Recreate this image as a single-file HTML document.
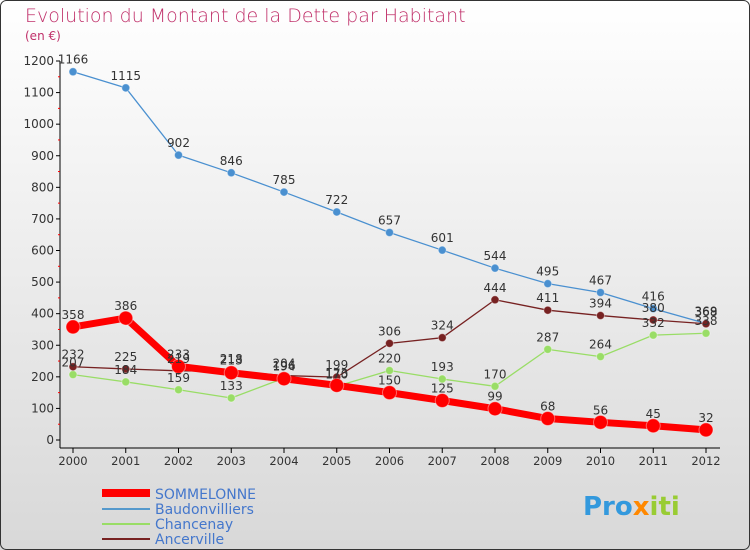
<!DOCTYPE html>
<html><head><meta charset="utf-8"><style>
body{margin:0;}
#wrap{width:750px;height:550px;position:relative;overflow:hidden;background:linear-gradient(#ffffff,#d8d8d8);font-family:"DejaVu Sans","Liberation Sans",sans-serif;}
</style></head><body>
<div id="wrap">
<svg id="svg" width="750" height="550" style="position:absolute;left:0;top:0">
<rect x="0.5" y="0.5" width="749" height="549" rx="6" fill="none" stroke="#333"/>
<text x="25" y="22" font-size="19" fill="#c0306a" font-weight="200">Evolution du Montant de la Dette par Habitant</text>
<text x="25" y="40" font-size="12" fill="#c0306a">(en €)</text>
<g id="axes"></g><g id="series"></g><g id="labels"></g>
<g>
<line x1="102" y1="493" x2="150" y2="493" stroke="#ff0000" stroke-width="8"/>
<text x="155" y="499" font-size="14" fill="#4477cc">SOMMELONNE</text>
<line x1="102" y1="509" x2="150" y2="509" stroke="#5599cc" stroke-width="2"/>
<text x="155" y="514" font-size="14" fill="#4477cc">Baudonvilliers</text>
<line x1="102" y1="524" x2="150" y2="524" stroke="#99dd66" stroke-width="2"/>
<text x="155" y="529" font-size="14" fill="#4477cc">Chancenay</text>
<line x1="102" y1="539" x2="150" y2="539" stroke="#772222" stroke-width="2"/>
<text x="155" y="544" font-size="14" fill="#4477cc">Ancerville</text>
</g>
<text x="583" y="515" font-size="26" font-weight="bold" fill="#3399dd">Pro<tspan fill="#ff8800">x</tspan><tspan fill="#99cc33">iti</tspan></text>
</svg>
</div>
<script>
const years=[2000,2001,2002,2003,2004,2005,2006,2007,2008,2009,2010,2011,2012];
const yTicks=[0,100,200,300,400,500,600,700,800,900,1000,1100,1200];
const sommelonne=[358,386,233,213,194,173,150,125,99,68,56,45,32];
const baudonvilliers=[1166,1115,902,846,785,722,657,601,544,495,467,416,369];
const chancenay=[207,184,159,133,196,170,220,193,170,287,264,332,338];
const ancerville=[232,225,219,218,204,199,306,324,444,411,394,380,368];
const NS="http://www.w3.org/2000/svg";
const X=i=>73+i*52.75, Y=v=>440-v*379/1200;
function mk(tag,attrs,parent){const e=document.createElementNS(NS,tag);for(const k in attrs)e.setAttribute(k,attrs[k]);parent.appendChild(e);return e;}
const ax=document.getElementById('axes'),sg=document.getElementById('series'),lg=document.getElementById('labels');
let a=mk('line',{x1:60,y1:Y(1200),x2:60,y2:448,stroke:'#000'},ax);


a=mk('line',{x1:60,y1:448,x2:720,y2:448,stroke:'#000'},ax);


yTicks.forEach((t,i)=>{
 mk('line',{x1:56,y1:Y(t),x2:60,y2:Y(t),stroke:'#000'},ax);
 const tx=mk('text',{x:54,y:Y(t)+4,'font-size':12,fill:'#333','text-anchor':'end'},ax);tx.textContent=t;
 
 
 if(i<yTicks.length-1)mk('line',{x1:58,y1:Y(t+50),x2:60,y2:Y(t+50),stroke:'#f00'},ax);
});
years.forEach((y,i)=>{
 mk('line',{x1:X(i),y1:448,x2:X(i),y2:453,stroke:'#000'},ax);
 const tx=mk('text',{x:X(i),y:465,'font-size':11.5,fill:'#333','text-anchor':'middle'},ax);tx.textContent=y;
 
 
});
function series(vals,color,w,r,name){
 const p=mk('polyline',{points:vals.map((v,i)=>X(i)+','+Y(v)).join(' '),fill:'none',stroke:color,'stroke-width':w,'stroke-linejoin':'round'},sg);
 
 
 vals.forEach((v,i)=>{
  const c=mk('circle',{cx:X(i),cy:Y(v),r:r,fill:color,stroke:'#fff','stroke-opacity':0.4},sg);
  
  
  const t=mk('text',{x:X(i),y:Y(v)-8,'font-size':12,fill:'#333','text-anchor':'middle'},lg);t.textContent=v;
  
  
 });
}
series(baudonvilliers,'#4a90d0',1.3,4,'baudonvilliers');
series(chancenay,'#99dd66',1.3,4,'chancenay');
series(ancerville,'#772222',1.3,4,'ancerville');
series(sommelonne,'#ff0000',7,7,'sommelonne');
</script>
</body></html>
